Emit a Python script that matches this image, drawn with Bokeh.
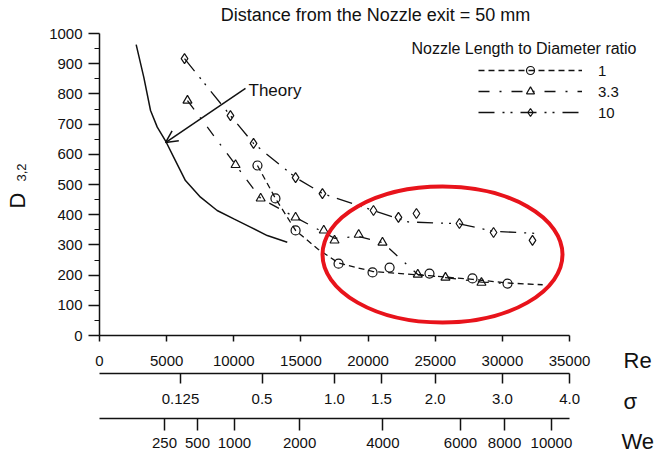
from math import pi
from bokeh.plotting import figure
from bokeh.models import (Range1d, LinearAxis, FixedTicker, Label, Arrow, OpenHead,
                          Legend, LegendItem)
from bokeh.embed import file_html
from bokeh.resources import INLINE

# ---------------- data ----------------
re_ticks = [0, 5000, 10000, 15000, 20000, 25000, 30000, 35000]
d_ticks = [0, 100, 200, 300, 400, 500, 600, 700, 800, 900, 1000]
d_minor = [50, 150, 250, 350, 450, 550, 650, 750, 850, 950]

# secondary scales (positions expressed on the Re scale)
sigma_pos = [6030, 12100, 17500, 21000, 25000, 30000, 35000]
sigma_labels = ["0.125", "0.5", "1.0", "1.5", "2.0", "3.0", "4.0"]
we_pos = [4840, 7300, 10050, 14900, 21100, 26880, 30160, 33650]
we_labels = ["250", "500", "1000", "2000", "4000", "6000", "8000", "10000"]

# L/D = 1 (circles)
re_1 = [11760, 13100, 14600, 17800, 20330, 21600, 24570, 27770, 30380]
d_1 = [563, 454, 348, 238, 209, 225, 205, 189, 172]
fit_re_1 = [11760, 13100, 14600, 16300, 17800, 20330, 24570, 27770, 30380, 33000]
fit_d_1 = [563, 454, 348, 285, 240, 212, 198, 186, 174, 168]

# L/D = 3.3 (triangles)
re_33 = [6550, 10130, 12000, 14600, 16700, 17500, 19300, 21070, 23700, 25760, 28440]
d_33 = [778, 565, 454, 391, 348, 315, 334, 308, 202, 192, 175]
fit_re_33 = [6550, 10130, 12000, 14600, 17500, 19300, 21070, 23700, 25760, 28440, 30500]
fit_d_33 = [778, 565, 454, 391, 322, 328, 308, 202, 192, 177, 172]

# L/D = 10 (diamonds)
re_10 = [6330, 9750, 11470, 14600, 16600, 20400, 22260, 23600, 26800, 29340, 32240]
d_10 = [917, 728, 636, 523, 470, 414, 391, 404, 371, 341, 315]
fit_re_10 = [6330, 9750, 11470, 14600, 16600, 20400, 23000, 26800, 29340, 32600]
fit_d_10 = [917, 728, 636, 523, 470, 414, 376, 370, 345, 338]

# theory curve
theory_re = [2730, 3300, 3800, 4300, 4970, 5530, 6400, 7520, 8760, 10000, 11240, 12490, 13980]
theory_d = [963, 855, 745, 690, 640, 590, 513, 458, 414, 386, 359, 331, 309]

# annotations
arrow_start = (10870, 818)
arrow_end = (4915, 639)
ellipse_center = (25540, 268)
ellipse_size = (17870, 450)

# levels (in D units) where the sigma and We scales are drawn below the Re axis
sigma_level = -126
we_level = -275

FONT = "Liberation Sans"
INK = "#111111"

# the frame covers the whole canvas; axes are placed with fixed_location
p = figure(width=658, height=462, x_range=Range1d(-7372, 41623), y_range=Range1d(-420.5, 1109.3),
           output_backend="svg", toolbar_location=None,
           x_axis_type=None, y_axis_type=None, min_border=0)
p.outline_line_color = None
p.background_fill_color = "white"
p.border_fill_color = "white"


def style_axis(ax, tick_out, standoff):
    ax.axis_line_color = INK
    ax.axis_line_width = 1.5
    ax.major_tick_line_color = INK
    ax.major_tick_line_width = 1.5
    ax.major_tick_out = tick_out
    ax.major_tick_in = 0
    ax.minor_tick_line_color = INK
    ax.minor_tick_out = 5
    ax.minor_tick_in = 0
    ax.major_label_text_font = FONT
    ax.major_label_text_font_size = "15px"
    ax.major_label_text_color = INK
    ax.major_label_standoff = standoff


yaxis = LinearAxis(ticker=FixedTicker(ticks=d_ticks, minor_ticks=d_minor),
                   fixed_location=0, bounds=(0, 1000))
style_axis(yaxis, 11, 6)
p.add_layout(yaxis, "left")

re_axis = LinearAxis(ticker=FixedTicker(ticks=re_ticks), fixed_location=0, bounds=(0, 35000))
style_axis(re_axis, 6, 14)
p.add_layout(re_axis, "below")

sig_axis = LinearAxis(ticker=FixedTicker(ticks=sigma_pos),
                      major_label_overrides=dict(zip(sigma_pos, sigma_labels)),
                      fixed_location=sigma_level, bounds=(0, 35000))
style_axis(sig_axis, 10, 10)
p.add_layout(sig_axis, "below")

we_axis = LinearAxis(ticker=FixedTicker(ticks=we_pos),
                     major_label_overrides=dict(zip(we_pos, we_labels)),
                     fixed_location=we_level, bounds=(0, 35000))
style_axis(we_axis, 12, 7)
p.add_layout(we_axis, "below")

# theory
p.line(theory_re, theory_d, line_color=INK, line_width=1.5)

# series
l1 = p.line(fit_re_1, fit_d_1, line_color=INK, line_width=1.3, line_dash="6 4")
s1 = p.scatter(re_1, d_1, marker="circle", size=9, fill_color=None, line_color=INK, line_width=1.2)
l33 = p.line(fit_re_33, fit_d_33, line_color=INK, line_width=1.3, line_dash="11 10 2 10")
s33 = p.scatter(re_33, d_33, marker="triangle", size=9, fill_color=None, line_color=INK, line_width=1.2)
l10 = p.line(fit_re_10, fit_d_10, line_color=INK, line_width=1.3, line_dash="16 8 2 6 2 8")
s10 = p.scatter(re_10, d_10, marker="diamond", size=10, fill_color=None, line_color=INK, line_width=1.2)

legend = Legend(items=[LegendItem(label="1", renderers=[l1, s1]),
                       LegendItem(label="3.3", renderers=[l33, s33]),
                       LegendItem(label="10", renderers=[l10, s10])],
                location=(478, 340), glyph_width=104, glyph_height=20, label_height=20,
                label_standoff=16, spacing=1, padding=0, margin=0,
                border_line_color=None, background_fill_alpha=0,
                label_text_font=FONT, label_text_font_size="15px", label_text_color=INK)
p.add_layout(legend)

# red ellipse
p.ellipse(x=[ellipse_center[0]], y=[ellipse_center[1]], width=[ellipse_size[0]],
          height=[ellipse_size[1]], fill_color=None, line_color="#e8131b", line_width=4)

# theory arrow
p.add_layout(Arrow(x_start=arrow_start[0], y_start=arrow_start[1], x_end=arrow_end[0], y_end=arrow_end[1],
                   line_color=INK, line_width=1.5,
                   end=OpenHead(size=12, line_color=INK, line_width=1.5)))


def add_text(text, sx, sy, size, align="left", baseline="middle", angle=0.0):
    p.add_layout(Label(x=sx, y=sy, x_units="screen", y_units="screen", text=text,
                       text_font=FONT, text_font_size=size, text_color=INK,
                       text_align=align, text_baseline=baseline, angle=angle))


# screen coords relative to the canvas bottom-left
add_text("Distance from the Nozzle exit = 50 mm", 375, 448, "18px", align="center")
add_text("Nozzle Length to Diameter ratio", 411, 414, "16px")
add_text("Theory", 248, 372, "17px")
add_text("Re", 623, 102, "22px")
add_text("σ", 623, 61, "22px")
add_text("We", 621, 21, "22px")
add_text("D", 17, 262, "22px", align="center", angle=pi / 2)
add_text("3,2", 21, 290, "13px", align="center", angle=pi / 2)

open("out.html", "w").write(file_html(p, INLINE))
